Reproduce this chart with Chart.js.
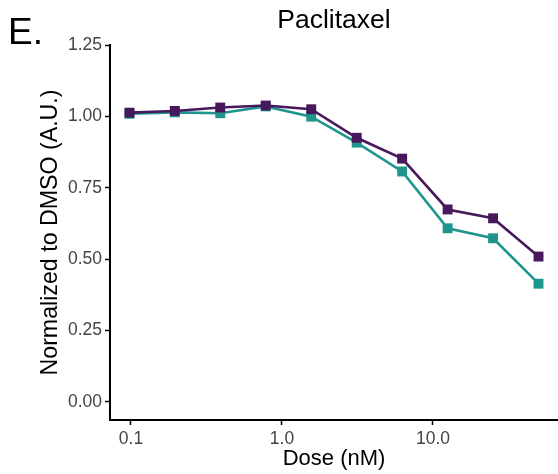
<!DOCTYPE html>
<html>
<head>
<meta charset="utf-8">
<script src="https://cdn.jsdelivr.net/npm/chart.js@4/dist/chart.umd.min.js"></script>
<style>
  html, body { margin: 0; padding: 0; background: #fff; }
  #wrap { width: 558px; height: 474px; position: relative; }
</style>
</head>
<body>
<div id="wrap"><canvas id="chart" width="558" height="474"></canvas></div>
<script>
/* ------------------- DATA ------------------- */
const doses = [0.0977, 0.195, 0.39, 0.78, 1.5625, 3.125, 6.25, 12.5, 25, 50];
const seriesPurple = [1.013, 1.019, 1.031, 1.038, 1.025, 0.925, 0.852, 0.674, 0.643, 0.509];
const seriesTeal   = [1.009, 1.014, 1.011, 1.035, 0.999, 0.908, 0.807, 0.608, 0.573, 0.414];
const xTickValues = [0.1, 1, 10];
const yTickValues = [0, 0.25, 0.5, 0.75, 1, 1.25];

const PURPLE = "#47195C";
const TEAL = "#1F968D";
const FONT = "'Liberation Sans', Arial, Helvetica, sans-serif";

/* ------------------- Text plugin (panel label + title) ------------------- */
const headerText = {
  id: "headerText",
  afterDraw(chart) {
    const { ctx, chartArea } = chart;
    ctx.save();
    ctx.fillStyle = "#000";
    ctx.textBaseline = "alphabetic";
    ctx.textAlign = "left";
    ctx.font = `37px ${FONT}`;
    ctx.fillText("E.", 8, 44);
    ctx.textAlign = "center";
    ctx.font = `26.5px ${FONT}`;
    ctx.fillText("Paclitaxel", (chartArea.left + chartArea.right) / 2, 28);
    ctx.restore();
  }
};

const toPoints = vals => vals.map((v, i) => ({ x: doses[i], y: v }));

new Chart(document.getElementById("chart").getContext("2d"), {
  type: "line",
  data: {
    datasets: [
      {
        label: "A",
        data: toPoints(seriesPurple),
        borderColor: PURPLE,
        backgroundColor: PURPLE,
        borderWidth: 2.6,
        pointStyle: "rect",
        pointRadius: 7,
        pointBorderWidth: 0,
        tension: 0
      },
      {
        label: "B",
        data: toPoints(seriesTeal),
        borderColor: TEAL,
        backgroundColor: TEAL,
        borderWidth: 2.6,
        pointStyle: "rect",
        pointRadius: 7,
        pointBorderWidth: 0,
        tension: 0
      }
    ]
  },
  options: {
    responsive: false,
    animation: false,
    layout: { autoPadding: false, padding: { left: 37, top: 45, right: 0, bottom: 0 } },
    plugins: {
      legend: { display: false },
      tooltip: { enabled: false },
      title: { display: false }
    },
    scales: {
      x: {
        type: "logarithmic",
        min: 0.0726,
        max: 67.3,
        afterBuildTicks: s => { s.ticks = xTickValues.map(v => ({ value: v })); },
        afterFit: s => { s.height = 54; },
        ticks: {
          autoSkip: false,
          maxRotation: 0,
          padding: 4,
          color: "#444",
          font: { family: FONT, size: 17.5 },
          callback: v => Number(v).toFixed(1)
        },
        grid: {
          drawOnChartArea: false,
          drawTicks: true,
          tickLength: 5,
          tickWidth: 1.5,
          tickColor: "#000"
        },
        border: { display: true, color: "#000", width: 2 },
        title: {
          display: true,
          text: "Dose (nM)",
          color: "#000",
          font: { family: FONT, size: 22 },
          padding: { top: 0, bottom: 2 }
        }
      },
      y: {
        min: -0.0634,
        max: 1.25,
        afterBuildTicks: s => { s.ticks = yTickValues.map(v => ({ value: v })); },
        afterFit: s => { s.width = 73; },
        ticks: {
          autoSkip: false,
          padding: 3,
          color: "#444",
          font: { family: FONT, size: 17.5 },
          callback: v => Number(v).toFixed(2)
        },
        grid: {
          drawOnChartArea: false,
          drawTicks: true,
          tickLength: 5,
          tickWidth: 1.5,
          tickColor: "#000"
        },
        border: { display: true, color: "#000", width: 2 },
        title: {
          display: true,
          text: "Normalized to DMSO (A.U.)",
          color: "#000",
          font: { family: FONT, size: 23.2 },
          padding: { top: 0, bottom: 0 }
        }
      }
    }
  },
  plugins: [headerText]
});
</script>
</body>
</html>
